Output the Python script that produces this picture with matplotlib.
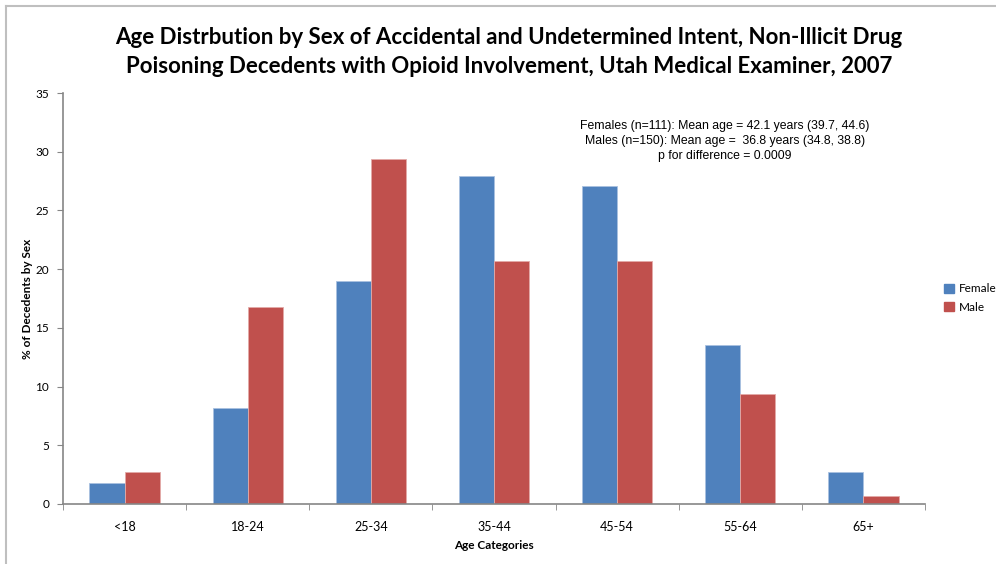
import matplotlib

matplotlib.use("Agg")
import matplotlib.pyplot as plt
from matplotlib.lines import Line2D
import numpy as np

categories = ["<18", "18-24", "25-34", "35-44", "45-54", "55-64", "65+"]
female = [1.8, 8.2, 19.0, 27.9, 27.1, 13.5, 2.75]
male = [2.7, 16.8, 29.4, 20.7, 20.7, 9.4, 0.7]
yticks = [0, 5, 10, 15, 20, 25, 30, 35]

title = ("Age Distrbution by Sex of Accidental and Undetermined Intent, Non-Illicit Drug\n"
         "Poisoning Decedents with Opioid Involvement, Utah Medical Examiner, 2007")
note = ("Females (n=111): Mean age = 42.1 years (39.7, 44.6)\n"
        "Males (n=150): Mean age =  36.8 years (34.8, 38.8)\n"
        "p for difference = 0.0009")

BLUE = "#4F81BD"
RED = "#C0504D"
AXIS = "#868686"

plt.rcParams["font.family"] = ["Lato", "DejaVu Sans"]

fig = plt.figure(figsize=(9.96, 5.64), dpi=100)
ax = fig.add_axes([63 / 996, 60 / 564, 862 / 996, 411 / 564])

x = np.arange(len(categories))
w = 0.285
ax.bar(x - w / 2, female, w, color=BLUE, edgecolor="#a9c1e0", linewidth=0.6, label="Female")
ax.bar(x + w / 2, male, w, color=RED, edgecolor="#e3aaa8", linewidth=0.6, label="Male")

ax.set_xlim(-0.5, len(categories) - 0.5)
ax.set_ylim(0, 35)
ax.set_yticks(yticks)
ax.set_xticks(x, categories)
ax.set_xticks(np.arange(len(categories) + 1) - 0.5, minor=True)
ax.tick_params(axis="x", which="major", length=0, pad=12, labelsize=9)
ax.tick_params(axis="x", which="minor", length=4, color=AXIS, direction="out")
ax.tick_params(axis="y", length=4, color=AXIS, labelsize=8.5, pad=6)
for s in ("top", "right"):
    ax.spines[s].set_visible(False)
for s in ("left", "bottom"):
    ax.spines[s].set_color(AXIS)
    ax.spines[s].set_linewidth(1.2)

ax.set_xlabel("Age Categories", fontsize=8.5, fontweight="bold")
ax.xaxis.set_label_coords(0.5, -(540 - 504) / 411)
ax.set_ylabel("% of Decedents by Sex", fontsize=8.5, fontweight="bold")
ax.yaxis.set_label_coords(-(63 - 33) / 862, 0.5)

fig.text(509 / 996, 1 - 52 / 564, title, ha="center", va="center", fontsize=16,
         fontweight="bold", linespacing=1.5)
fig.text(725 / 996, 1 - 141 / 564, note, ha="center", va="center", fontsize=8.8,
         family=["Liberation Sans", "DejaVu Sans"], linespacing=1.32)

handles = [plt.Rectangle((0, 0), 1, 1, color=BLUE), plt.Rectangle((0, 0), 1, 1, color=RED)]
fig.legend(handles, ["Female", "Male"], loc="center left", bbox_to_anchor=(936 / 996, 1 - 298 / 564),
           frameon=False, fontsize=8.5, handlelength=0.8, handleheight=0.8, handletextpad=0.4,
           labelspacing=0.6, borderpad=0.2)

# light chart border (top and left edges visible)
fig.add_artist(Line2D([6 / 996, 6 / 996], [0, 1 - 6 / 564], color="#bfbfbf", lw=1.5,
                      transform=fig.transFigure))
fig.add_artist(Line2D([6 / 996, 1], [1 - 6 / 564, 1 - 6 / 564], color="#bfbfbf", lw=1.5,
                      transform=fig.transFigure))

fig.savefig("out.png", dpi=100)
